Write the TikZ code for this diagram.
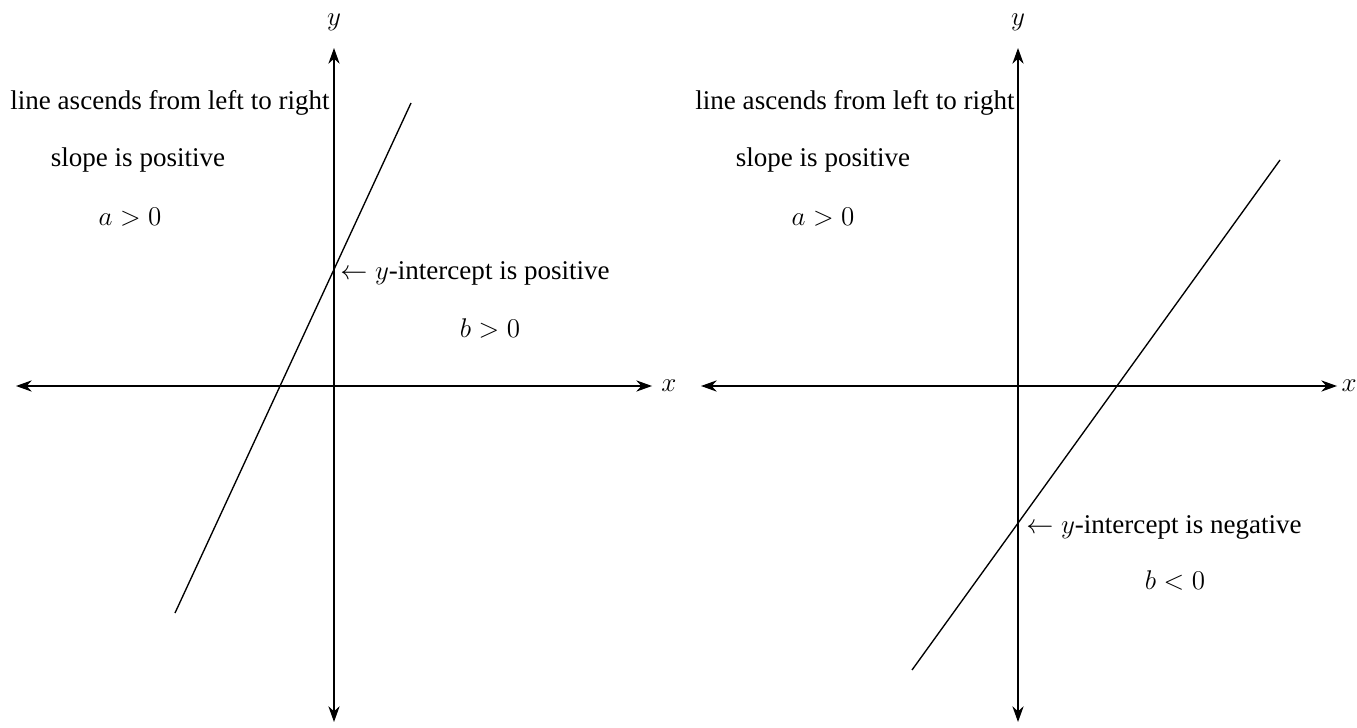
\documentclass[tikz,border=0pt]{standalone}
\usepackage{fontspec}
\setmainfont{Liberation Serif}
\usetikzlibrary{arrows,arrows.meta,positioning}

\begin{document}
\begin{tikzpicture}[
    x=0.0156cm, y=-0.0156cm,
    axis/.style={{Stealth[length=7pt,width=5pt]}-{Stealth[length=7pt,width=5pt]}, line width=0.6pt},
    graph/.style={line width=0.6pt},
    note/.style={font=\fontsize{12}{14}\selectfont, inner sep=0pt},
    axlabel/.style={font=\fontsize{13}{15}\selectfont, inner sep=0pt}
]
\useasboundingbox (0,0) rectangle (1357,728);

% Left panel: axes
\coordinate (lt) at (334,48);
\coordinate (lb) at (334,722);
\coordinate (ll) at (16,386);
\coordinate (lr) at (652,386);
\draw[axis] (lb) -- (lt);
\draw[axis] (ll) -- (lr);
\node[axlabel] (ly) at (334,22)  {$y$};
\node[axlabel] (lx) at (669,386) {$x$};

% Left panel: line
\coordinate (la) at (175,613);
\coordinate (lz) at (411,103);
\draw[graph] (la) -- (lz);

% Left panel: texts
\node[note] (lasc)  at (170,103) {line ascends from left to right};
\node[note] (lslp)  at (138,160) {slope is positive};
\node[note] (lapos) at (130,217) {$a>0$};
\node[note, anchor=west] (lint) at (340,273) {$\leftarrow y$-intercept is positive};
\node[note] (lbpos) at (490,328) {$b>0$};

% Right panel: axes
\coordinate (rt) at (1018,48);
\coordinate (rb) at (1018,722);
\coordinate (rl) at (701,386);
\coordinate (rr) at (1337,386);
\draw[axis] (rb) -- (rt);
\draw[axis] (rl) -- (rr);
\node[axlabel] (ry) at (1018,22)  {$y$};
\node[axlabel, anchor=east] (rx) at (1357,386) {$x$};

% Right panel: line
\coordinate (ra) at (912,670);
\coordinate (rz) at (1280,160);
\draw[graph] (ra) -- (rz);

% Right panel: texts
\node[note] (rasc)  at (855,103) {line ascends from left to right};
\node[note] (rslp)  at (823,160) {slope is positive};
\node[note] (rapos) at (823,217) {$a>0$};
\node[note, anchor=west] (rint) at (1026,527) {$\leftarrow y$-intercept is negative};
\node[note] (rbneg) at (1175,580) {$b<0$};

\end{tikzpicture}
\end{document}
